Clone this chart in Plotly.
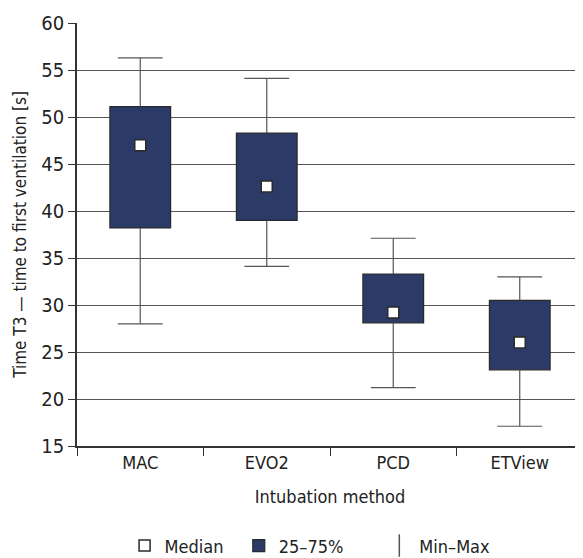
import plotly.graph_objects as go

categories = ["MAC", "EVO2", "PCD", "ETView"]
minimum = [28.0, 34.1, 21.2, 17.1]
q1 = [38.2, 39.0, 28.1, 23.1]
median = [47.0, 42.6, 29.2, 26.0]
q3 = [51.1, 48.3, 33.3, 30.5]
maximum = [56.3, 54.1, 37.1, 33.0]

FONT = "DejaVu Sans Condensed, Roboto, sans-serif"
NAVY = "#2b3a67"
EDGE = "#2a2a2a"
WHISK = "#555555"
NB = "\u00a0"

fig = go.Figure()

fig.add_trace(go.Bar(
    x=categories, y=[b - a for a, b in zip(q1, q3)], base=q1,
    width=0.48, marker=dict(color=NAVY, line=dict(color=EDGE, width=1.2)),
    name="25–75%" + NB * 6, legendrank=2,
))

wx, wy = [], []
for c, lo, a, b, hi in zip(categories, minimum, q1, q3, maximum):
    wx += [c, c, None, c, c, None]
    wy += [b, hi, None, a, lo, None]
fig.add_trace(go.Scatter(
    x=wx, y=wy, mode="lines", line=dict(color=WHISK, width=1.2),
    showlegend=False, hoverinfo="skip",
))
fig.add_trace(go.Scatter(
    x=categories + categories, y=maximum + minimum, mode="markers",
    marker=dict(symbol="line-ew", size=32, color=WHISK, line=dict(color=WHISK, width=1.2)),
    showlegend=False, hoverinfo="skip",
))
fig.add_trace(go.Scatter(
    x=categories, y=median, mode="markers",
    marker=dict(symbol="square", size=11, color="white", line=dict(color=EDGE, width=1.5)),
    name="Median" + NB * 2, legendrank=1,
))
# legend key for the min–max whiskers
fig.add_trace(go.Scatter(
    x=[None], y=[None], mode="markers",
    marker=dict(symbol="line-ns-open", size=16, color=WHISK, line=dict(color=WHISK, width=1.5)),
    name="Min–Max", legendrank=3,
))

# the page body adds an 8px offset, so the figure is 8px smaller with margins shifted
fig.update_layout(
    width=575, height=550,
    margin=dict(l=69, r=0, t=15, b=112, autoexpand=False),
    paper_bgcolor="white", plot_bgcolor="white",
    font=dict(family=FONT, size=18, color="#222"),
    bargap=0.5,
    legend=dict(orientation="h", x=0.094, xanchor="left", y=-0.236, yanchor="middle",
                font=dict(size=18), itemwidth=30),
    xaxis=dict(
        type="category", tickson="boundaries", ticks="outside", ticklen=8,
        tickcolor="#333", showline=True, linecolor="#333", linewidth=1.5,
        showgrid=False, tickfont=dict(size=18), automargin=False,
        title=dict(text="Intubation method", font=dict(size=18), standoff=18),
    ),
    yaxis=dict(
        range=[15, 60], dtick=5, ticks="outside", ticklen=7, tickcolor="#333",
        showline=True, linecolor="#333", linewidth=1.5, automargin=False,
        showgrid=True, gridcolor="#555", gridwidth=1, zeroline=False,
        tickfont=dict(size=20),
        title=dict(text="Time T3 — time to first ventilation [s]", font=dict(size=17), standoff=10),
    ),
)

fig.write_html("out.html")
